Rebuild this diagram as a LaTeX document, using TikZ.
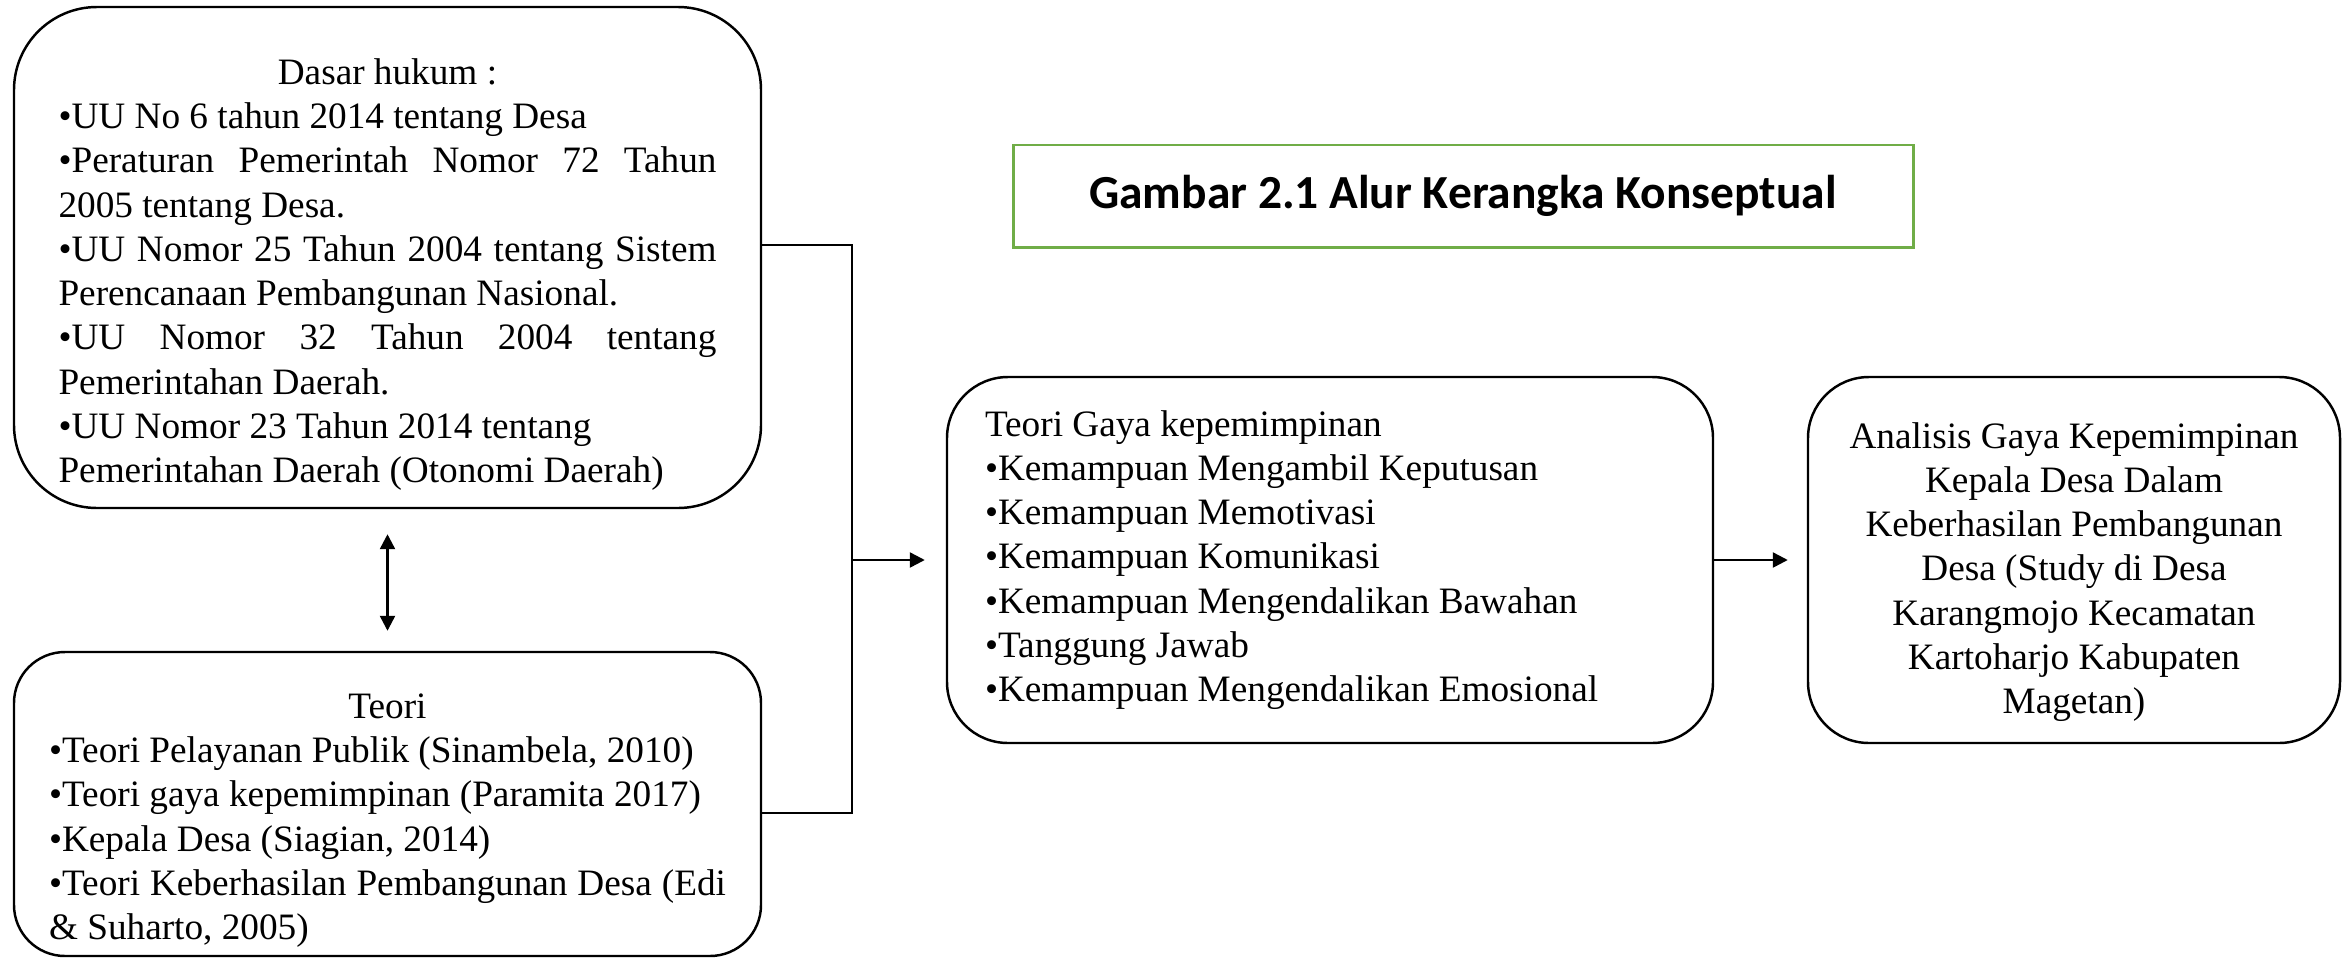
\documentclass[tikz,border=0pt]{standalone}
\usepackage{fontspec}
\setmainfont{Liberation Serif}
\newfontfamily\judulfont{Carlito}
\usetikzlibrary{arrows.meta}
\setlength{\parindent}{0pt}
\definecolor{hijau}{RGB}{112,173,71}

\begin{document}
\begin{tikzpicture}[
		kotak/.style = {draw, rounded corners = #1, line width = 0.7pt, inner sep = 0pt, align = justify, font = \fontsize{10.6}{12.6}\selectfont},
		garis/.style = {line width = 0.7pt},
		panah/.style = {-{Triangle[length = 0.15cm, width = 0.15cm]}, line width = 0.7pt},
		panahdua/.style = {{Triangle[length = 0.15cm, width = 0.15cm]}-{Triangle[length = 0.15cm, width = 0.15cm]}, line width = 0.7pt}
	]
	\useasboundingbox (0, 0) rectangle (23.46, -9.58);

	\coordinate (s1) at (8.52, -2.45);
	\coordinate (s2) at (8.52, -8.13);

	\node [kotak = 0.83cm, minimum width = 7.47cm, minimum height = 5.01cm, text width = 6.58cm] (hukum) at (3.875, -2.575) {%
		\rule{0pt}{0.6cm}\makebox[\hsize]{Dasar hukum :}\par
		•UU No 6 tahun 2014 tentang Desa\par
		•Peraturan Pemerintah Nomor 72 Tahun\linebreak 2005 tentang Desa.\par
		•UU Nomor 25 Tahun 2004 tentang Sistem\linebreak Perencanaan Pembangunan Nasional.\par
		•UU Nomor 32 Tahun 2004 tentang\linebreak Pemerintahan Daerah.\par
		•UU Nomor 23 Tahun 2014 tentang\newline Pemerintahan Daerah (Otonomi Daerah)};

	\node [kotak = 0.51cm, minimum width = 7.47cm, minimum height = 3.04cm, text width = 6.77cm] (teori) at (3.875, -8.04) {%
		\rule{0pt}{0.58cm}\makebox[\hsize]{Teori}\par
		•Teori Pelayanan Publik (Sinambela, 2010)\par
		•Teori gaya kepemimpinan (Paramita 2017)\par
		•Kepala Desa (Siagian, 2014)\par
		•Teori Keberhasilan Pembangunan Desa (Edi\linebreak \& Suharto, 2005)};

	\node [draw = hijau, line width = 0.85pt, minimum width = 9cm, minimum height = 1.02cm, font = \judulfont\bfseries\fontsize{13.5}{16}\selectfont] (judul) at (14.63, -1.96) {Gambar 2.1 Alur Kerangka Konseptual};

	\node [kotak = 0.61cm, minimum width = 7.66cm, minimum height = 3.66cm, text width = 6.9cm] (gaya) at (13.30, -5.60) {%
		Teori Gaya kepemimpinan\par
		•Kemampuan Mengambil Keputusan\par
		•Kemampuan Memotivasi\par
		•Kemampuan Komunikasi\par
		•Kemampuan Mengendalikan Bawahan\par
		•Tanggung Jawab\par
		•Kemampuan Mengendalikan Emosional};

	\node [kotak = 0.61cm, minimum width = 5.32cm, minimum height = 3.66cm, text width = 5cm] (analisis) at (20.74, -5.60) {%
		\centering
		\rule{0pt}{0.5cm}Analisis Gaya Kepemimpinan\par
		Kepala Desa Dalam\par
		Keberhasilan Pembangunan\par
		Desa (Study di Desa\par
		Karangmojo Kecamatan\par
		Kartoharjo Kabupaten\par
		Magetan)\par};

	\draw [garis] (hukum.east |- s1) -- (s1) -- (s2) -- (teori.east |- s2);
	\draw [panah, shorten > = 0.21cm] (gaya.west -| s1) -- (gaya.west);
	\draw [panah, shorten > = 0.19cm] (gaya.east) -- (analisis.west);
	\draw [panahdua, shorten < = 0.25cm, shorten > = 0.2cm] (hukum.south) -- (teori.north);
\end{tikzpicture}
\end{document}
